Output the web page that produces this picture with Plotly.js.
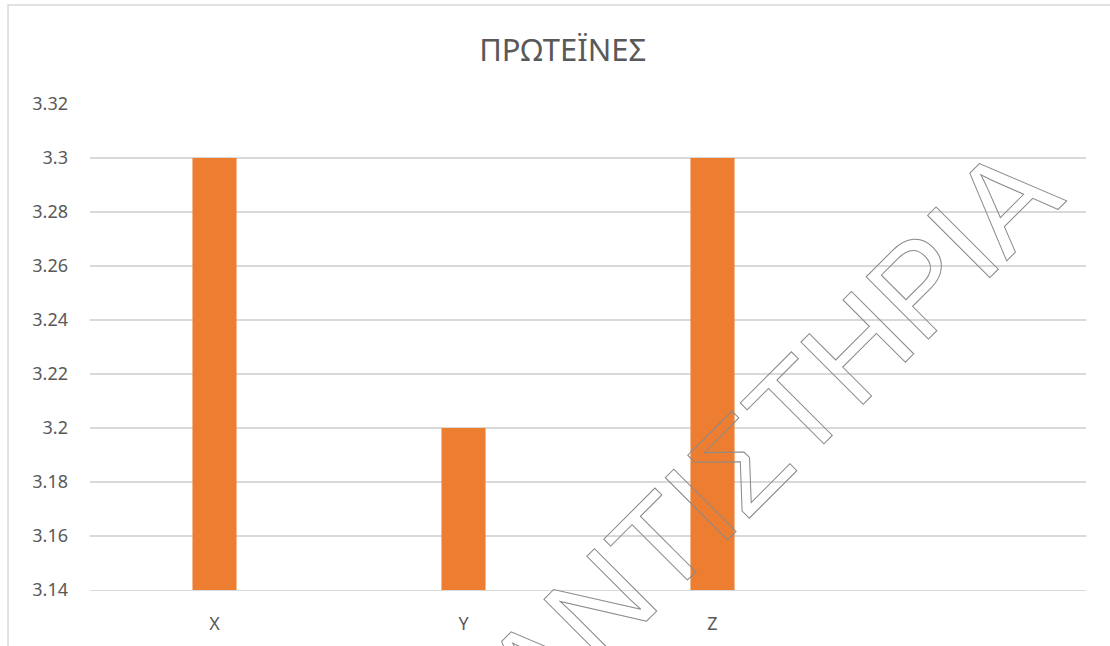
<!DOCTYPE html>
<html>
<head>
<meta charset="utf-8">
<script src="https://cdn.plot.ly/plotly-3.0.1.min.js"></script>
<style>
  html, body { margin: 0; padding: 0; background: #ffffff; }
  #chart { width: 1110px; height: 646px; }
  .annotation-text { stroke: #8a8a8a; stroke-width: 1px; }
</style>
</head>
<body>
<div id="chart"></div>
<script>
// ---- data ----
const categories = ['X', 'Y', 'Z'];
const proteinValues = [3.3, 3.2, 3.3];
const yTickValues = [3.14, 3.16, 3.18, 3.2, 3.22, 3.24, 3.26, 3.28, 3.3, 3.32];
const yTickLabels = ['3.14', '3.16', '3.18', '3.2', '3.22', '3.24', '3.26', '3.28', '3.3', '3.32'];
const chartTitle = 'ΠΡΩΤΕΪΝΕΣ';
const watermarkText = 'ΑΝΤΙΣΤΗΡΙΑ';

const textFont = 'Noto Sans, Open Sans, sans-serif';

const trace = {
  type: 'bar',
  x: categories,
  y: proteinValues,
  width: 0.177,
  marker: { color: '#ED7D31' },
  hoverinfo: 'skip'
};

const layout = {
  width: 1110,
  height: 646,
  margin: { l: 90, r: 24, t: 104, b: 56 },
  paper_bgcolor: '#ffffff',
  plot_bgcolor: '#ffffff',
  showlegend: false,
  title: {
    text: chartTitle,
    font: { family: textFont, size: 31, color: '#595959' },
    x: 0.507, xanchor: 'center', xref: 'container',
    y: 0.922, yanchor: 'middle', yref: 'container'
  },
  xaxis: {
    type: 'category',
    range: [-0.5, 3.5],
    showgrid: false,
    zeroline: false,
    showline: true,
    linecolor: '#d9d9d9',
    linewidth: 1.3,
    ticks: '',
    ticklabelstandoff: 17,
    tickfont: { family: textFont, size: 18, color: '#595959' },
    fixedrange: true
  },
  yaxis: {
    range: [3.14, 3.32],
    tickmode: 'array',
    tickvals: yTickValues,
    ticktext: yTickLabels,
    showgrid: true,
    gridcolor: '#d9d9d9',
    gridwidth: 1.3,
    zeroline: false,
    showline: false,
    ticks: '',
    ticklabelstandoff: 21,
    tickfont: { family: textFont, size: 18, color: '#595959' },
    fixedrange: true
  },
  shapes: [{
    type: 'rect', xref: 'paper', yref: 'paper',
    x0: -0.0823, x1: 1.04, y0: -0.15, y1: 1.2037,
    line: { color: '#d9d9d9', width: 1.5 },
    fillcolor: 'rgba(0,0,0,0)',
    layer: 'below'
  }],
  annotations: [{
    text: watermarkText,
    xref: 'paper', yref: 'paper',
    x: 0.6837, y: 0.323,
    xanchor: 'center', yanchor: 'middle',
    textangle: -45,
    showarrow: false,
    font: { family: 'Liberation Sans, Arial, sans-serif', size: 128, color: 'rgba(255,255,255,0)' }
  }]
};

Plotly.newPlot('chart', [trace], layout, { staticPlot: true, displayModeBar: false });
</script>
</body>
</html>
